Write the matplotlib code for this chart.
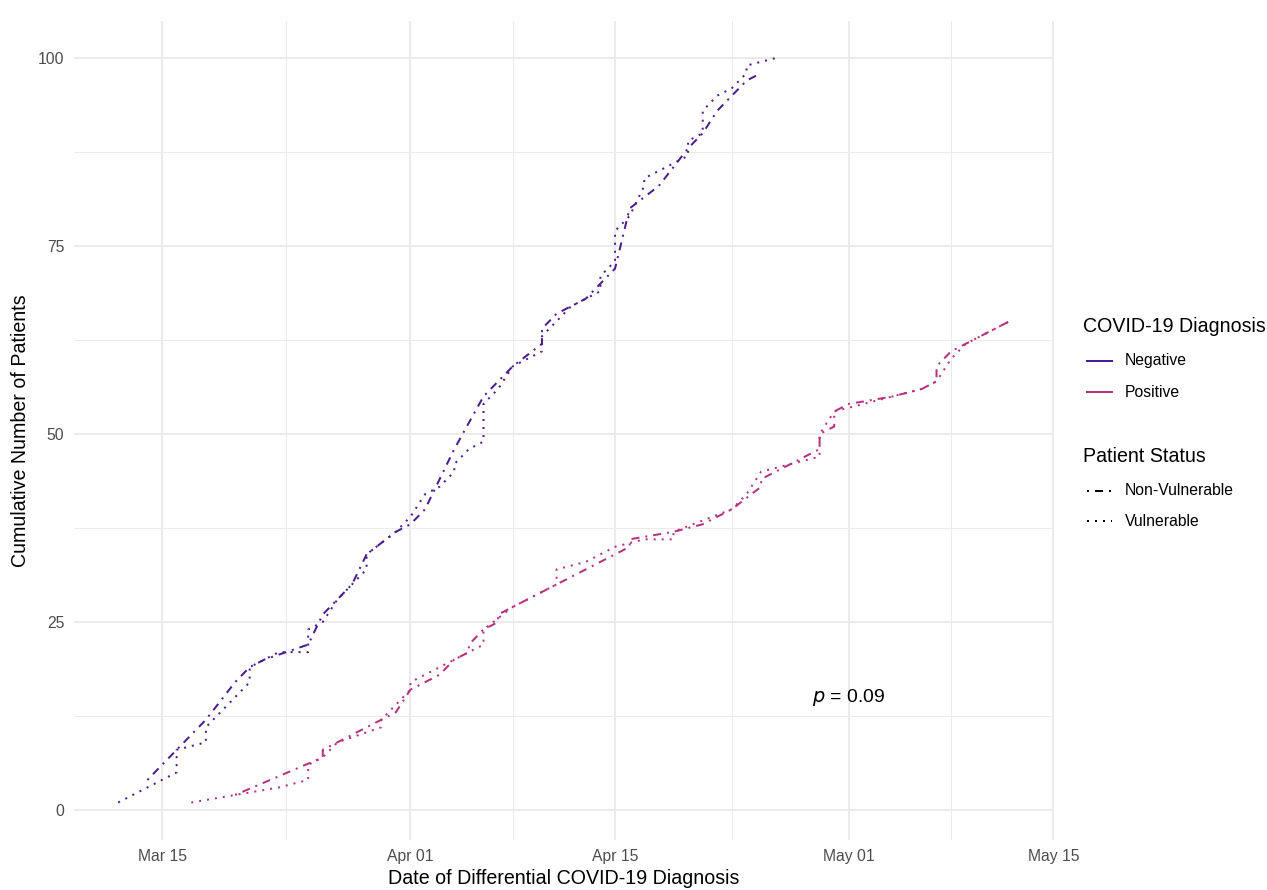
import numpy as np
import pandas as pd
import matplotlib
matplotlib.use("Agg")
import matplotlib.pyplot as plt
import matplotlib.dates as mdates
from matplotlib.lines import Line2D

plt.rcParams['font.family'] = ['Liberation Sans', 'DejaVu Sans']

# cumulative counts (2020)
neg_nv_dates = ["03-14", "03-16", "03-18", "03-20", "03-21", "03-22", "03-25", "03-26",
                "03-28", "03-29", "03-31", "04-01", "04-02", "04-03", "04-04", "04-06",
                "04-07", "04-08", "04-10", "04-10", "04-11", "04-13", "04-15", "04-16",
                "04-18", "04-20", "04-21", "04-22", "04-24", "04-25"]
neg_nv_vals = [4, 8, 12, 17, 19, 20, 22, 26,
               30, 34, 37, 38, 40, 44, 48, 55,
               57, 59, 62, 64, 66, 68, 72, 80,
               83, 88, 90, 93, 97, 98]

neg_v_dates = ["03-12", "03-14", "03-15", "03-16", "03-16", "03-18", "03-18", "03-19",
               "03-20", "03-21", "03-21", "03-22", "03-23", "03-25", "03-25", "03-26",
               "03-27", "03-28", "03-29", "03-29", "03-31", "04-01", "04-02", "04-03",
               "04-04", "04-04", "04-05", "04-06", "04-06", "04-07", "04-08", "04-09",
               "04-10", "04-10", "04-11", "04-12", "04-13", "04-14", "04-14", "04-15",
               "04-15", "04-16", "04-17", "04-17", "04-18", "04-19", "04-20", "04-20",
               "04-21", "04-21", "04-22", "04-23", "04-24", "04-24", "04-26"]
neg_v_vals = [1, 3, 4, 5, 8, 9, 11, 13,
              15, 17, 19, 20, 21, 21, 24, 25,
              28, 30, 32, 34, 37, 39, 42, 43,
              45, 46, 48, 49, 54, 56, 59, 60,
              61, 63, 65, 67, 68, 69, 71, 73,
              77, 79, 83, 84, 85, 86, 87, 89,
              90, 93, 95, 96, 98, 99, 100]

pos_nv_dates = ["03-20", "03-26", "03-26", "03-30", "03-31", "04-01", "04-03", "04-04",
                "04-05", "04-05", "04-06", "04-07", "04-07", "04-08", "04-10", "04-13",
                "04-15", "04-16", "04-16", "04-19", "04-21", "04-23", "04-25", "04-25",
                "04-28", "04-29", "04-29", "04-30", "04-30", "05-01", "05-04", "05-06",
                "05-07", "05-07", "05-08", "05-12"]
pos_nv_vals = [2, 7, 8, 12, 13, 16, 18, 20,
               21, 22, 24, 25, 26, 27, 29, 32,
               34, 35, 36, 37, 38, 40, 43, 44,
               47, 48, 50, 51, 53, 54, 55, 56,
               57, 59, 61, 65]

pos_v_dates = ["03-17", "03-20", "03-23", "03-25", "03-25", "03-26", "03-27", "03-30",
               "03-30", "03-31", "04-01", "04-01", "04-02", "04-04", "04-06", "04-06",
               "04-08", "04-10", "04-11", "04-11", "04-13", "04-14", "04-15", "04-17",
               "04-19", "04-19", "04-23", "04-24", "04-25", "04-27", "04-29", "04-29",
               "04-30", "05-02", "05-06", "05-07", "05-08", "05-09", "05-12"]
pos_v_vals = [1, 2, 3, 4, 6, 7, 9, 11,
              12, 14, 16, 17, 18, 20, 22, 24,
              27, 29, 30, 32, 33, 34, 35, 36,
              36, 37, 40, 42, 45, 46, 47, 50,
              53, 54, 56, 57, 60, 62, 65]

col_neg = "#4A1D8E"
col_pos = "#B5317E"
dotdash = (1, 3, 4, 3)
dotted = (1, 3)

def to_dates(ds):
    return pd.to_datetime(["2020-" + d for d in ds])

fig = plt.figure(figsize=(1267 / 96, 890 / 96), dpi=96)
ax = fig.add_axes([0.0581, 0.0565, 0.832 - 0.0581, 0.9766 - 0.0565])

lw = 1.5
ax.plot(to_dates(neg_nv_dates), neg_nv_vals, color=col_neg, lw=lw, dashes=dotdash)
ax.plot(to_dates(neg_v_dates), neg_v_vals, color=col_neg, lw=lw, dashes=dotted)
ax.plot(to_dates(pos_nv_dates), pos_nv_vals, color=col_pos, lw=lw, dashes=dotdash)
ax.plot(to_dates(pos_v_dates), pos_v_vals, color=col_pos, lw=lw, dashes=dotted)

ax.text(pd.Timestamp("2020-05-01"), 15, r"$p$ = 0.09", ha="center", va="center",
        fontsize=14.5, color="black")

# ggplot-like limits with 5% expansion
x0, x1 = pd.Timestamp("2020-03-12"), pd.Timestamp("2020-05-12")
span = x1 - x0
ax.set_xlim(x0 - span * 0.05, x1 + span * 0.05)
ax.set_ylim(1 - 99 * 0.05, 100 + 99 * 0.05)

major_x = pd.to_datetime(["2020-03-15", "2020-04-01", "2020-04-15", "2020-05-01", "2020-05-15"])
minor_x = major_x[:-1] + (major_x[1:] - major_x[:-1]) / 2
ax.set_xticks(major_x)
ax.set_xticks(minor_x, minor=True)
ax.xaxis.set_major_formatter(mdates.DateFormatter("%b %d"))
ax.set_yticks([0, 25, 50, 75, 100])
ax.set_yticks([12.5, 37.5, 62.5, 87.5], minor=True)

ax.grid(which="major", color="#EBEBEB", lw=1.45)
ax.grid(which="minor", color="#EBEBEB", lw=0.75)
ax.set_axisbelow(True)
for s in ax.spines.values():
    s.set_visible(False)
ax.tick_params(which="both", length=0)
ax.tick_params(axis="both", labelsize=11.8, labelcolor="#4D4D4D", pad=7)

ax.set_xlabel("Date of Differential COVID-19 Diagnosis", fontsize=14.7, labelpad=4)
ax.set_ylabel("Cumulative Number of Patients", fontsize=14.7, labelpad=6)

# legends drawn by hand at the right side
W, H = 1267, 890
def fx(px):
    return px / W
def fy(py):
    return 1 - py / H

fig.text(fx(1083), fy(327), "COVID-19 Diagnosis", fontsize=14.7, va="center", ha="left")
for label, col, py in [("Negative", col_neg, 361), ("Positive", col_pos, 392)]:
    fig.add_artist(Line2D([fx(1087), fx(1112)], [fy(py), fy(py)], color=col, lw=1.5,
                          transform=fig.transFigure))
    fig.text(fx(1125), fy(py), label, fontsize=11.8, va="center", ha="left")

fig.text(fx(1083), fy(457), "Patient Status", fontsize=14.7, va="center", ha="left")
for label, ds, py in [("Non-Vulnerable", dotdash, 491), ("Vulnerable", dotted, 521)]:
    fig.add_artist(Line2D([fx(1087), fx(1112)], [fy(py), fy(py)], color="black", lw=1.5,
                          dashes=ds, transform=fig.transFigure))
    fig.text(fx(1125), fy(py), label, fontsize=11.8, va="center", ha="left")

fig.savefig("out.png", dpi=96, facecolor="white")
